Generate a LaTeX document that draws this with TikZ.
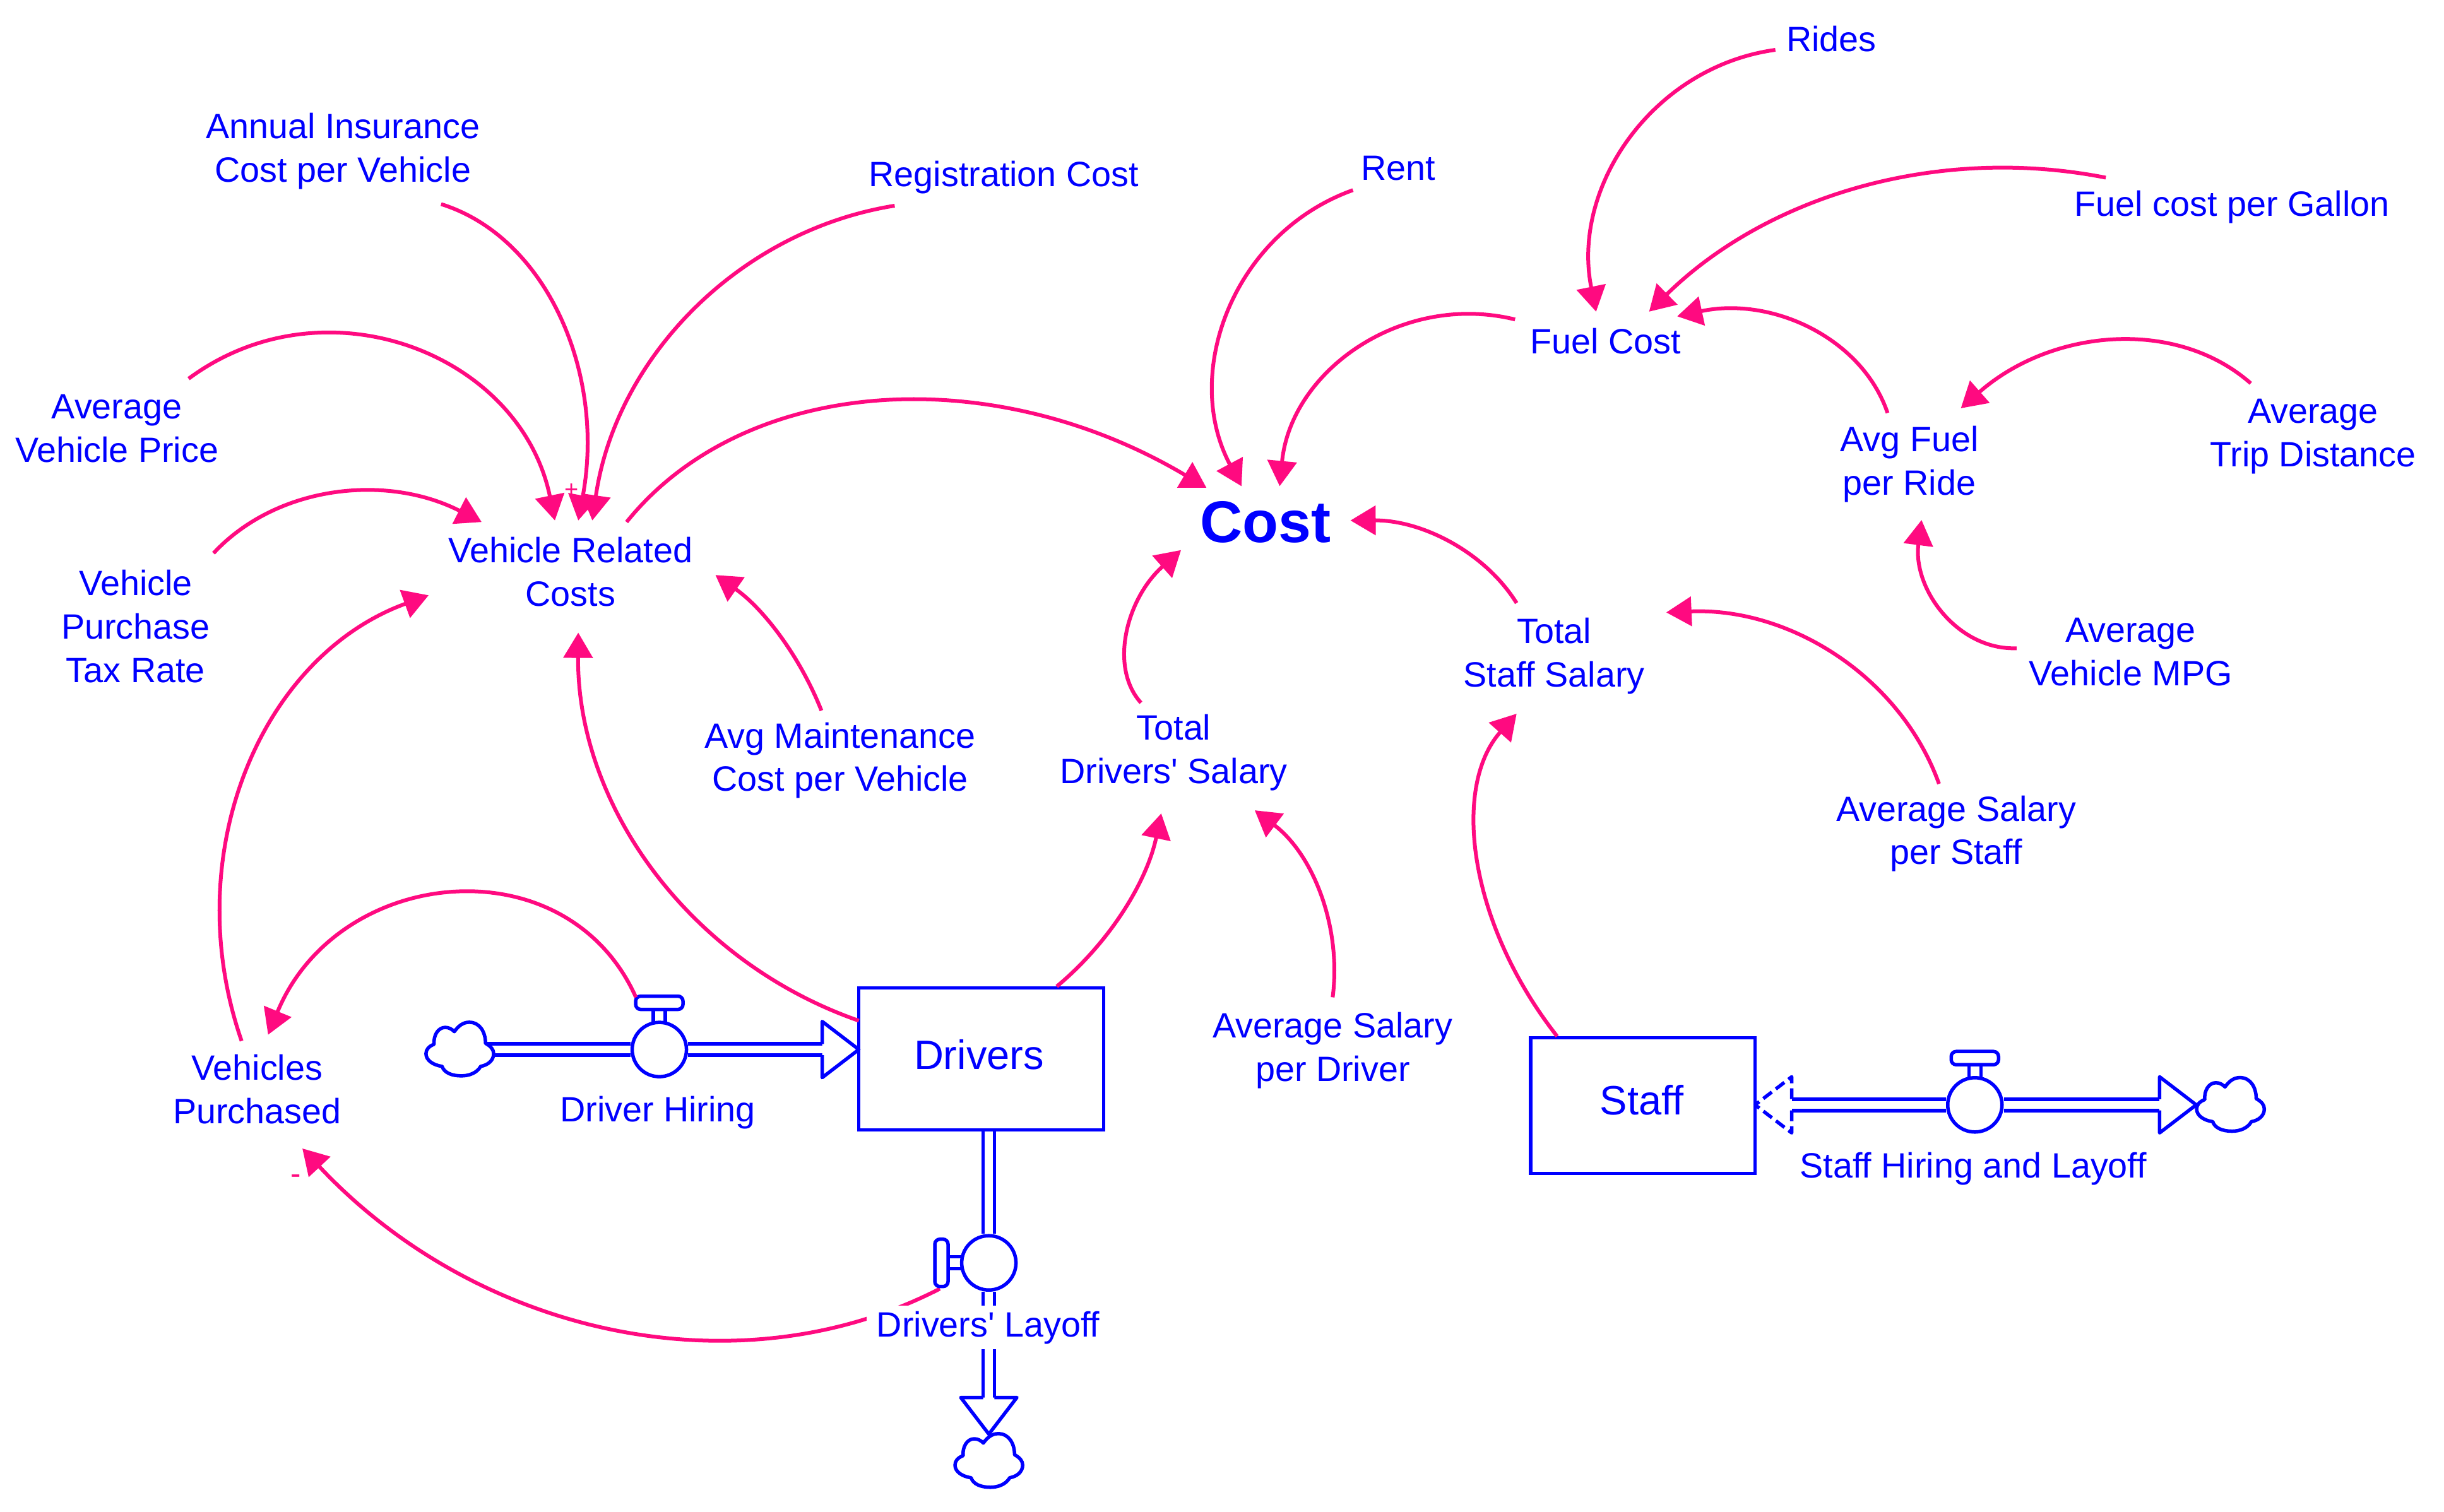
\documentclass[tikz,border=0pt]{standalone}
\usepackage{fontspec}
\setmainfont{Liberation Sans}
\newfontfamily\lsans{Liberation Sans}
\usetikzlibrary{calc,arrows.meta}
\definecolor{sblue}{HTML}{0000FF}
\definecolor{spink}{HTML}{FF0A80}
\pgfdeclarelayer{bg}
\pgfsetlayers{bg,main}
\tikzset{
  lbl/.style={text=sblue,align=center,inner sep=0pt,font=\lsans\fontsize{15.85}{19.6}\selectfont},
  stock/.style={draw=sblue,line width=0.055cm,inner sep=0pt,text=sblue,font=\lsans\fontsize{18.5}{22}\selectfont},
  link/.style={draw=spink,line width=0.06cm,-{Triangle[length=4mm,width=4.6mm]}},
  sign/.style={text=spink,inner sep=0pt,font=\lsans\fontsize{10.8}{12}\selectfont},
  pipe/.style={draw=sblue,line width=0.055cm,double=white,double distance=0.125cm},
  flowline/.style={draw=sblue,line width=0.055cm,line join=round},
  valve/.style={circle,draw=sblue,fill=white,line width=0.055cm,minimum size=0.86cm,inner sep=0pt},
  handle/.style={draw=sblue,fill=white,line width=0.055cm,rounded corners=0.08cm,minimum width=0.75cm,minimum height=0.21cm,inner sep=0pt},
  stem/.style={draw=sblue,fill=white,line width=0.055cm,minimum width=0.19cm,minimum height=0.24cm,inner sep=0pt},
  cloudpic/.pic={
    \draw[flowline,fill=white] (-3.5,-11.5) .. controls (-1,-15) and (2,-17.5) .. (6,-17.5)
      .. controls (13,-17.5) and (16.5,-11) .. (16.5,-4)
      .. controls (20,-2) and (21.7,0) .. (21.7,2.7)
      .. controls (21.7,7) and (18,10) .. (13.4,10.8)
      .. controls (11,15) and (6,16.9) .. (1,16.9)
      .. controls (-5,16.9) and (-10,15) .. (-11.4,10.8)
      .. controls (-17,10) and (-21.7,7) .. (-21.7,2.7)
      .. controls (-21.7,0) and (-20,-2) .. (-16.5,-3.4)
      .. controls (-17,-9) and (-14,-14.2) .. (-9.3,-14.2)
      .. controls (-7,-14.2) and (-5,-13) .. cycle;
  },
  flowtip/.pic={
    \draw[flowline,fill=white] (-23.5,-3.6) -- (-23.5,-18) -- (0,0) -- (-23.5,18) -- (-23.5,3.6);
  },
  flowtipd/.pic={
    \draw[flowline,dash pattern=on 0.17cm off 0.08cm] (-23.5,-3.6) -- (-23.5,-18) -- (0,0) -- (-23.5,18) -- (-23.5,3.6);
  }
}
% [options]{from}{shift}{point on the arc}{to}{shift}
\newcommand\lnk[6][]{%
  \draw[link,#1] let \p1=([shift={(#3)}]#2.center), \p2=(#4), \p3=([shift={(#6)}]#5.center),
    \n1={2*veclen(\x2-0.5*\x1-0.5*\x3,\y2-0.5*\y1-0.5*\y3)/veclen(\x3-\x1,\y3-\y1)},
    \n2={(1-\n1*\n1)/3} in
    ([shift={(#3)}]#2.center) .. controls
      ({\x1+\n2*(\x3-\x1)+4/3*(\x2-0.5*\x1-0.5*\x3)},{\y1+\n2*(\y3-\y1)+4/3*(\y2-0.5*\y1-0.5*\y3)}) and
      ({\x3-\n2*(\x3-\x1)+4/3*(\x2-0.5*\x1-0.5*\x3)},{\y3-\n2*(\y3-\y1)+4/3*(\y2-0.5*\y1-0.5*\y3)}) ..
    ([shift={(#6)}]#5.center);}
\begin{document}
\begin{tikzpicture}[x=0.024694cm,y=-0.024694cm]
\useasboundingbox (0,0) rectangle (1568,970);
% labels
\node[lbl] (ins) at (220,97) {Annual Insurance\\Cost per Vehicle};
\node[lbl] (reg) at (644,114) {Registration Cost};
\node[lbl] (rent) at (897,108) {Rent};
\node[lbl] (rides) at (1175,25) {Rides};
\node[lbl] (gal) at (1432,133) {Fuel cost per Gallon};
\node[lbl] (fuel) at (1030,219) {Fuel Cost};
\node[lbl] (afpr) at (1225,298) {Avg Fuel\\per Ride};
\node[lbl] (atd) at (1484,280) {Average\\Trip Distance};
\node[lbl] (mpg) at (1367,418.5) {Average\\Vehicle MPG};
\node[lbl,font=\lsans\fontsize{26.5}{30}\selectfont\bfseries] (cost) at (812,335) {Cost};
\node[lbl] (tss) at (997,421) {Total\\Staff Salary};
\node[lbl] (asps) at (1255,535) {Average Salary\\per Staff};
\node[lbl] (tds) at (753,483) {Total\\Drivers' Salary};
\node[lbl] (maint) at (539,488) {Avg Maintenance\\Cost per Vehicle};
\node[lbl] (vrc) at (366,367) {Vehicle Related\\Costs};
\node[lbl] (avp) at (75,275) {Average\\Vehicle Price};
\node[lbl] (tax) at (87,402) {Vehicle\\Purchase\\Tax Rate};
\node[lbl] (vp) at (165,699) {Vehicles\\Purchased};
\node[lbl] (dh) at (422,714) {Driver Hiring};
\node[lbl] (aspd) at (855,674) {Average Salary\\per Driver};
\node[lbl] (shl) at (1266,750) {Staff Hiring and Layoff};
% stocks
\node[stock,minimum width=3.877cm,minimum height=2.247cm] (drivers) at (629.5,679.5) {\hspace*{-0.07cm}\raisebox{-0.17cm}[0pt][0pt]{Drivers}};
\node[stock,minimum width=3.556cm,minimum height=2.148cm] (staff) at (1054,709.5) {\hspace*{-0.03cm}\raisebox{-0.147cm}[0pt][0pt]{Staff}};
% flow ends
\coordinate (cloudAc) at (295,673.5);
\coordinate (cloudBc) at (1431,709);
\coordinate (cloudCc) at (634.4,937.5);
\coordinate (tipA) at (551,673.5);
\coordinate (baseA) at (527.5,673.5);
\coordinate (tipB) at (1409,709);
\coordinate (baseB) at (1385.5,709);
\coordinate (tipS) at (1126,709);
\coordinate (baseS) at (1149.5,709);
\coordinate (tipC) at (634.4,920.3);
\coordinate (baseC) at (634.4,896.8);
% valves
\node[stem] (stemA) at (423,652) {};
\node[handle] (handleA) at (423,643.5) {};
\node[valve] (valveA) at (423,673.5) {};
\node[stem] (stemB) at (1267,688) {};
\node[handle] (handleB) at (1267,679) {};
\node[valve] (valveB) at (1267,709) {};
\node[stem,rotate=90] (stemC) at (613,810.4) {};
\node[handle,rotate=90] (handleC) at (604,810.4) {};
\node[valve] (valveC) at (634.4,810.4) {};
\begin{pgfonlayer}{bg}
  \draw[pipe] (cloudAc) -- (valveA);
  \draw[pipe] (valveA) -- (baseA);
  \draw[pipe] (valveB) -- (baseB);
  \draw[pipe] (valveB) -- (baseS);
  \draw[pipe] (valveC |- drivers.south) -- (valveC);
  \draw[pipe] (valveC) -- (baseC);
  \lnk{valveC}{-31.4,16.6}{392,852}{vp}{29,38}
\end{pgfonlayer}
\pic[rotate=0] at (tipA) {flowtip};
\pic[rotate=0] at (tipB) {flowtip};
\pic[rotate=180] at (tipS) {flowtipd};
\pic[rotate=-90] at (tipC) {flowtip};
\pic at (cloudAc) {cloudpic};
\pic at (cloudBc) {cloudpic};
\pic at (cloudCc) {cloudpic};
\node[lbl,fill=white,minimum width=3.85cm,minimum height=0.69cm] (dl) at (634,852) {Drivers' Layoff};
% influence links
\lnk{ins}{63,34}{359,205}{vrc}{5,-33}
\lnk{reg}{-70,18}{445,200}{vrc}{14,-33}
\lnk{avp}{46,-32}{263,224}{vrc}{-10,-33}
\lnk{tax}{50,-47}{215,317}{vrc}{-57,-32}
\lnk{vrc}{36,-32}{565,258}{cost}{-38,-22}
\lnk{rent}{-29,14}{789,200}{cost}{-15.5,-23}
\lnk{fuel}{-58,-14}{872,224}{cost}{9,-23}
\lnk{rides}{-36,7}{1046,90}{fuel}{-6,-19}
\lnk{gal}{-81,-19}{1193,121}{fuel}{28,-19}
\lnk{afpr}{-14,-33}{1160,211}{fuel}{46,-16}
\lnk{atd}{-40,-34}{1355,219}{afpr}{33,-36}
\lnk{mpg}{-73.2,-2.5}{1247,392}{afpr}{7.8,35.7}
\lnk{tss}{-24,-34}{929,348}{cost}{54.4,-1}
\lnk{asps}{-11,-32}{1177,421}{tss}{72,-28}
\lnk{staff}{-55,-44.5}{949,552}{tss}{-24,37}
\lnk{tds}{-21,-32}{724,405}{cost}{-54.3,18}
\lnk{drivers}{48.5,-46.5}{721,583}{tds}{-8,39}
\lnk{aspd}{0,-34}{846,573}{tds}{52,37}
\lnk{maint}{-12,-32}{499,407}{vrc}{93,2}
\lnk{drivers}{-78.5,-24.5}{420,558}{vrc}{5,39}
\lnk{vp}{-10,-31}{159,495}{vrc}{-91,15}
\lnk{valveA}{-15,-33.5}{290,574}{vp}{7,-35}
\node[sign] (plus) at (366.6,314.8) {+};
\node[sign,font=\lsans\fontsize{14}{14}\selectfont] (minus) at (190,757) {-};
\end{tikzpicture}
\end{document}
